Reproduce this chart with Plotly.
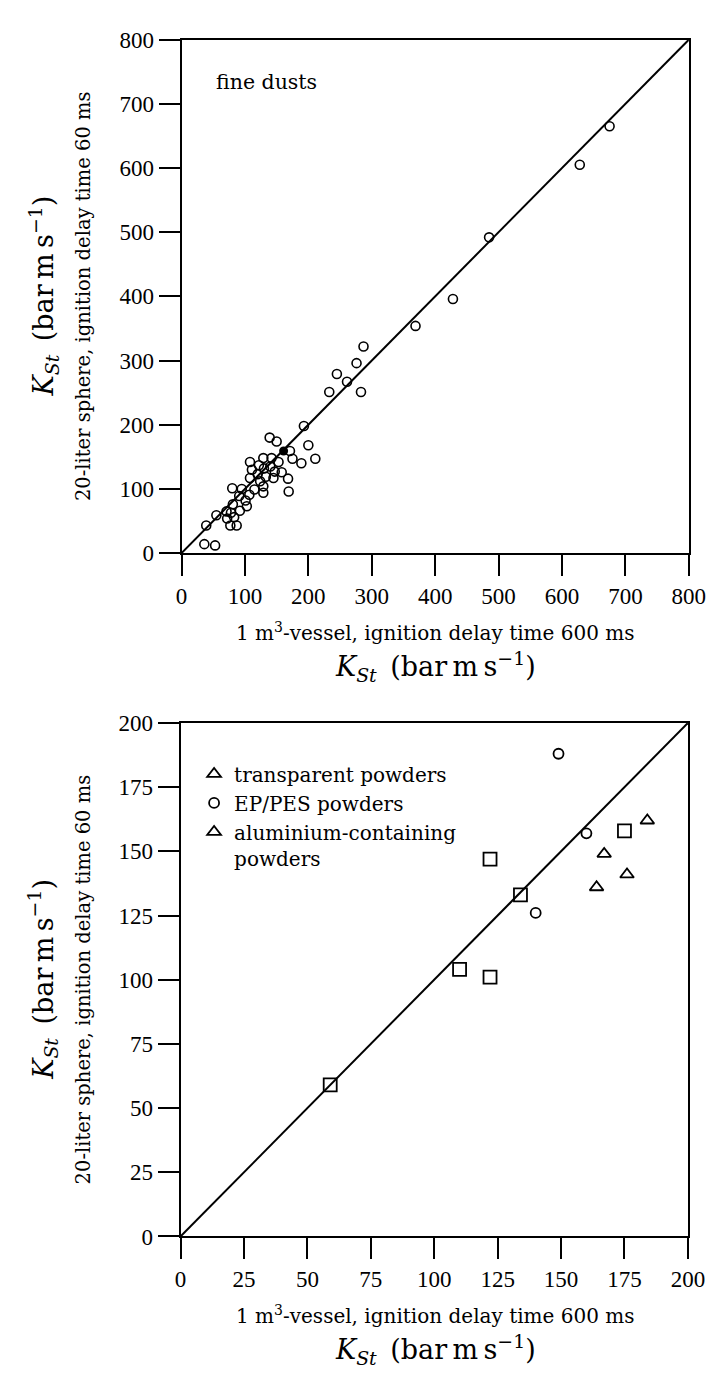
import plotly.graph_objects as go

# ---------------- data ----------------
# Top panel: fine dusts (1 m3 vessel vs 20-liter sphere), K_St in bar m/s
fine_x = [675, 628, 485, 428, 369, 287, 276, 245, 261, 233, 283, 193, 200, 211, 189,
          36, 53, 39, 55, 71, 72, 77, 87, 81, 83, 78, 92, 103, 80, 95, 91, 107, 101,
          108, 111, 108, 115, 122, 129, 142, 120, 130, 124, 133, 129, 129, 140, 147,
          145, 153, 158, 139, 150, 171, 175, 168, 169]
fine_y = [665, 605, 492, 396, 354, 322, 296, 279, 267, 251, 251, 198, 168, 147, 140,
          14, 12, 43, 59, 65, 54, 43, 43, 76, 56, 63, 66, 73, 101, 100, 89, 91, 82,
          142, 130, 117, 99, 137, 148, 148, 123, 132, 112, 119, 104, 94, 135, 127,
          117, 142, 126, 180, 174, 159, 147, 116, 96]
filled_x = [161]
filled_y = [159]

# Bottom panel
transparent_x = [184, 167, 176, 164]
transparent_y = [162, 149, 141, 136]
eppes_x = [140, 160, 149]
eppes_y = [126, 157, 188]
alu_x = [59, 110, 122, 122, 134, 175]
alu_y = [59, 104, 101, 147, 133, 158]

top_range = [0, 800]
bot_range = [0, 200]
top_ticks = [0, 100, 200, 300, 400, 500, 600, 700, 800]
bot_ticks = [0, 25, 50, 75, 100, 125, 150, 175, 200]

# ---------------- layout geometry ----------------
W, H = 724, 1373
FONT = "DejaVu Serif"
TFONT = "Liberation Serif"
xdom = [173 / W, 697 / W]
xdom2 = [172 / W, 696 / W]
ydom_top = [1 - 543 / H, 1 - 20 / H]
ydom_bot = [1 - 1239 / H, 1 - 716 / H]

fig = go.Figure()

mk_circle = dict(symbol="circle-open", size=9, color="black", line=dict(width=1.6, color="black"))

# top panel
fig.add_trace(go.Scatter(x=top_range, y=top_range, mode="lines",
                         line=dict(color="black", width=2), showlegend=False,
                         xaxis="x", yaxis="y", hoverinfo="skip"))
fig.add_trace(go.Scatter(x=fine_x, y=fine_y, mode="markers", marker=mk_circle,
                         showlegend=False, xaxis="x", yaxis="y"))
fig.add_trace(go.Scatter(x=filled_x, y=filled_y, mode="markers",
                         marker=dict(symbol="circle", size=9, color="black"),
                         showlegend=False, xaxis="x", yaxis="y"))

# bottom panel
fig.add_trace(go.Scatter(x=bot_range, y=bot_range, mode="lines",
                         line=dict(color="black", width=2), showlegend=False,
                         xaxis="x2", yaxis="y2", hoverinfo="skip"))
fig.add_trace(go.Scatter(x=transparent_x, y=transparent_y, mode="markers",
                         name="transparent powders",
                         marker=dict(symbol="triangle-up-open", size=12, color="black",
                                     line=dict(width=1.8, color="black")),
                         xaxis="x2", yaxis="y2"))
fig.add_trace(go.Scatter(x=eppes_x, y=eppes_y, mode="markers",
                         name="EP/PES powders",
                         marker=dict(symbol="circle-open", size=10, color="black",
                                     line=dict(width=1.8, color="black")),
                         xaxis="x2", yaxis="y2"))
fig.add_trace(go.Scatter(x=alu_x, y=alu_y, mode="markers",
                         name="aluminium-containing powders", showlegend=False,
                         marker=dict(symbol="square-open", size=13, color="black",
                                     line=dict(width=1.8, color="black")),
                         xaxis="x2", yaxis="y2"))
fig.add_trace(go.Scatter(x=[None], y=[None], mode="markers",
                         name="aluminium-containing<br>powders",
                         marker=dict(symbol="triangle-up-open", size=12, color="black",
                                     line=dict(width=1.8, color="black")),
                         xaxis="x2", yaxis="y2"))

tickfont = dict(family=TFONT, size=23, color="black")
base = dict(showgrid=False, zeroline=False, showline=True, linecolor="black", linewidth=2,
            ticks="outside", ticklen=21, tickwidth=2, tickcolor="black", tickfont=tickfont,
            mirror=True)
inner = dict(showgrid=False, zeroline=False, showline=False, ticks="inside", ticklen=21,
             tickwidth=2, tickcolor="black", showticklabels=False)

fig.update_layout(
    width=W, height=H, margin=dict(l=0, r=0, t=0, b=0),
    plot_bgcolor="white", paper_bgcolor="white",
    font=dict(family=FONT, color="black"),
    xaxis=dict(base, domain=xdom, range=top_range, tickvals=top_ticks, anchor="y"),
    yaxis=dict(base, domain=ydom_top, range=top_range, tickvals=top_ticks, anchor="x"),
    xaxis3=dict(inner, domain=xdom, range=top_range, tickvals=top_ticks, overlaying="x",
                side="top", anchor="y"),
    yaxis3=dict(inner, domain=ydom_top, range=top_range, tickvals=top_ticks, overlaying="y",
                side="right", anchor="x"),
    xaxis2=dict(base, domain=xdom2, range=bot_range, tickvals=bot_ticks, anchor="y2"),
    yaxis2=dict(base, domain=ydom_bot, range=bot_range, tickvals=bot_ticks, anchor="x2"),
    xaxis4=dict(inner, domain=xdom2, range=bot_range, tickvals=bot_ticks, overlaying="x2",
                side="top", anchor="y2"),
    yaxis4=dict(inner, domain=ydom_bot, range=bot_range, tickvals=bot_ticks, overlaying="y2",
                side="right", anchor="x2"),
    legend=dict(x=186 / W, y=1 - 748 / H, xanchor="left", yanchor="top",
                font=dict(family=FONT, size=20, color="black"), bgcolor="rgba(0,0,0,0)",
                valign="top", tracegroupgap=0, itemwidth=30),
)

ann = []
ksT = "<i>K</i><sub><i>St</i></sub>\u2002(bar\u2009m\u2009s<sup>−1</sup>)"
for off, (y0, y1) in [(0, ydom_top), (696, ydom_bot)]:
    ymid = (y0 + y1) / 2
    ann.append(dict(text="1 m<sup>3</sup>-vessel, ignition delay time 600 ms", x=435 / W,
                    y=1 - (623 + off) / H, xref="paper", yref="paper", showarrow=False,
                    xanchor="center", yanchor="middle",
                    font=dict(family=FONT, size=20)))
    ann.append(dict(text=ksT, x=435 / W, y=1 - (658 + off) / H, xref="paper", yref="paper",
                    showarrow=False, xanchor="center", yanchor="middle",
                    font=dict(family=FONT, size=27)))
    ann.append(dict(text="20-liter sphere, ignition delay time 60 ms", x=72 / W, y=ymid,
                    xref="paper", yref="paper", showarrow=False, textangle=-90,
                    xanchor="center", yanchor="middle",
                    font=dict(family=FONT, size=19.5)))
    ann.append(dict(text=ksT, x=30 / W, y=ymid, xref="paper", yref="paper",
                    showarrow=False, textangle=-90, xanchor="center", yanchor="middle",
                    font=dict(family=FONT, size=27)))
ann.append(dict(text="fine dusts", x=207 / W, y=1 - 63 / H, xref="paper", yref="paper",
                xanchor="left", yanchor="middle", showarrow=False,
                font=dict(family=FONT, size=20.5)))
fig.update_layout(annotations=ann)

fig.write_html("out.html")
